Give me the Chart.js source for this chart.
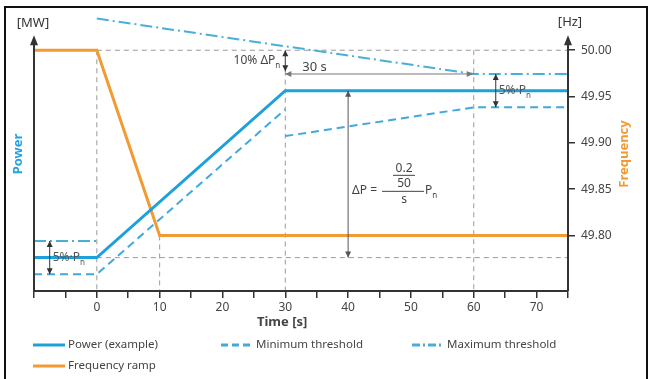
<!DOCTYPE html>
<html><head><meta charset="utf-8">
<script src="https://cdn.jsdelivr.net/npm/chart.js@4.4.1/dist/chart.umd.min.js"></script>
<style>html,body{margin:0;padding:0;background:#fff;}#wrap{position:relative;width:654px;height:379px;}</style>
</head><body><div id="wrap"><canvas id="c" width="654" height="379"></canvas></div>
<script>
const FONT = '"Noto Sans","Open Sans",sans-serif';
// ---- data ----
const xTickLabels = ['0','10','20','30','40','50','60','70'];
const freqTicks = [49.80, 49.85, 49.90, 49.95, 50.00];
const powerT   = [-10, 0, 30, 75];
const powerMW  = [5, 5, 30, 30];
const minT     = [-10, 0, 30, 30, 30, 60, 75];
const minMW    = [2.5, 2.5, 27.2, null, 23.2, 27.5, 27.5];
const maxT     = [-10, 0, 0, 0, 60, 75];
const maxMW    = [7.5, 7.5, null, 40.8, 32.5, 32.5];
const freqT    = [-10, 0, 10, 75];
const freqHz   = [50.00, 50.00, 49.80, 49.80];
// grey dashed reference lines (frequency axis units)
const refT     = [0, 75, 75, 0, 0, 0, 10, 10, 10, 30, 30, 30, 60, 60];
const refHz    = [50, 50, null, 50, 49.74, null, 49.80, 49.74, null, 49.978, 49.74, null, 50, 49.74];
const baseT    = [0, 75];
const baseMW   = [5, 5];
const labels   = ['Power (example)', 'Minimum threshold', 'Maximum threshold', 'Frequency ramp'];

const C_POW = '#1ea0da', C_MIN = '#3fa9dc', C_MAX = '#4aafd8', C_FREQ = '#f39a33', C_REF = '#9a9a9a';
const pts = (xs, ys) => xs.map((x, i) => ({x: x, y: ys[i]}));

const common = {pointRadius: 0, fill: false, tension: 0, spanGaps: false};
const datasets = [
  {...common, label: labels[0], data: pts(powerT, powerMW), yAxisID: 'yP', borderColor: C_POW, borderWidth: 3},
  {...common, label: labels[1], data: pts(minT, minMW), yAxisID: 'yP', borderColor: C_MIN, borderWidth: 2, borderDash: [8, 5]},
  {...common, label: labels[2], data: pts(maxT, maxMW), yAxisID: 'yP', borderColor: C_MAX, borderWidth: 2, borderDash: [12, 4, 2, 4]},
  {...common, label: labels[3], data: pts(freqT, freqHz), yAxisID: 'yF', borderColor: C_FREQ, borderWidth: 3},
  {...common, label: 'ref', data: pts(refT, refHz), yAxisID: 'yF', borderColor: C_REF, borderWidth: 1, borderDash: [5, 4]},
  {...common, label: 'ref2', data: pts(baseT, baseMW), yAxisID: 'yP', borderColor: C_REF, borderWidth: 1, borderDash: [5, 4]}
];

function head(ctx, x, y, dir, len, half) {
  len = len || 7; half = half || 3;
  ctx.beginPath();
  if (dir === 'up')    { ctx.moveTo(x, y); ctx.lineTo(x - half, y + len); ctx.lineTo(x + half, y + len); }
  if (dir === 'down')  { ctx.moveTo(x, y); ctx.lineTo(x - half, y - len); ctx.lineTo(x + half, y - len); }
  if (dir === 'left')  { ctx.moveTo(x, y); ctx.lineTo(x + len, y - half); ctx.lineTo(x + len, y + half); }
  if (dir === 'right') { ctx.moveTo(x, y); ctx.lineTo(x - len, y - half); ctx.lineTo(x - len, y + half); }
  ctx.closePath(); ctx.fill();
}
function dbl(ctx, x1, y1, x2, y2, color) {
  ctx.save(); ctx.strokeStyle = color; ctx.fillStyle = color; ctx.lineWidth = 1; ctx.setLineDash([]);
  ctx.beginPath(); ctx.moveTo(x1, y1); ctx.lineTo(x2, y2); ctx.stroke();
  if (x1 === x2) { head(ctx, x1, Math.min(y1, y2), 'up', 6, 3); head(ctx, x1, Math.max(y1, y2), 'down', 6, 3); }
  else { head(ctx, Math.min(x1, x2), y1, 'left', 6, 3); head(ctx, Math.max(x1, x2), y1, 'right', 6, 3); }
  ctx.restore();
}
function sub(ctx, main, s, x, y, align) {
  ctx.font = '12px ' + FONT;
  const w1 = ctx.measureText(main).width;
  ctx.font = '8px ' + FONT;
  const w2 = ctx.measureText(s).width;
  let x0 = align === 'right' ? x - w1 - w2 : x;
  ctx.textAlign = 'left'; ctx.textBaseline = 'middle';
  ctx.font = '12px ' + FONT; ctx.fillText(main, x0, y);
  ctx.font = '8px ' + FONT; ctx.fillText(s, x0 + w1, y + 5);
}

const deco = {
  id: 'deco',
  afterDraw(chart) {
    const ctx = chart.ctx, a = chart.chartArea;
    const xs = chart.scales.x, yP = chart.scales.yP, yF = chart.scales.yF;
    ctx.save();
    // outer frame
    ctx.strokeStyle = '#111'; ctx.lineWidth = 2; ctx.setLineDash([]);
    ctx.strokeRect(5, 7, 642, 400);
    // axes
    ctx.strokeStyle = '#333'; ctx.fillStyle = '#333'; ctx.lineWidth = 2;
    ctx.beginPath();
    ctx.moveTo(a.left, a.top + 28); ctx.lineTo(a.left, a.bottom); ctx.lineTo(a.right, a.bottom);
    ctx.moveTo(a.right, a.bottom); ctx.lineTo(a.right, a.top + 28);
    ctx.stroke();
    head(ctx, a.left, a.top + 22, 'up', 10, 4);
    head(ctx, a.right, a.top + 22, 'up', 10, 4);
    // unit labels
    ctx.fillStyle = '#333'; ctx.font = '13px ' + FONT; ctx.textAlign = 'center'; ctx.textBaseline = 'middle';
    ctx.fillText('[MW]', a.left - 1, 23);
    ctx.fillText('[Hz]', a.right + 2, 22);
    // axis titles
    ctx.font = 'bold 13px ' + FONT;
    ctx.save(); ctx.translate(18, 154); ctx.rotate(-Math.PI / 2); ctx.fillStyle = '#2aa3dc'; ctx.fillText('Power', 0, 0); ctx.restore();
    ctx.save(); ctx.translate(624, 154); ctx.rotate(-Math.PI / 2); ctx.fillStyle = '#f29a30'; ctx.fillText('Frequency', 0, 0); ctx.restore();
    ctx.fillStyle = '#444'; ctx.font = 'bold 13px ' + FONT;
    ctx.fillText('Time [s]', xs.getPixelForValue(29.5), 322);

    // annotations
    ctx.fillStyle = '#444';
    // 10% arrow
    const x30 = xs.getPixelForValue(30), x60 = xs.getPixelForValue(60);
    dbl(ctx, x30, yF.getPixelForValue(50), x30, yP.getPixelForValue(32.9), '#333');
    ctx.fillStyle = '#444';
    sub(ctx, '10% \u0394P', 'n', x30 - 5, 61, 'right');
    // 30 s arrow
    dbl(ctx, x30, yP.getPixelForValue(32.5), x60 - 1, yP.getPixelForValue(32.5), '#777');
    ctx.fillStyle = '#444'; ctx.font = '13px ' + FONT; ctx.textAlign = 'left'; ctx.textBaseline = 'middle';
    ctx.fillText('30 s', x30 + 17, yP.getPixelForValue(32.5) - 7);
    // right 5% band
    const xr = xs.getPixelForValue(63.5);
    dbl(ctx, xr, yP.getPixelForValue(32.5), xr, yP.getPixelForValue(27.5), '#333');
    ctx.fillStyle = '#555'; sub(ctx, '5%\u00b7P', 'n', xr + 3, yP.getPixelForValue(30), 'left');
    // left 5% band
    const xl = xs.getPixelForValue(-7.5);
    dbl(ctx, xl, yP.getPixelForValue(7.5), xl, yP.getPixelForValue(2.5), '#333');
    ctx.fillStyle = '#555'; sub(ctx, '5%\u00b7P', 'n', xl + 3, yP.getPixelForValue(5), 'left');
    // delta P arrow
    const x40 = xs.getPixelForValue(40);
    dbl(ctx, x40, yP.getPixelForValue(30), x40, yP.getPixelForValue(5), '#555');
    // formula
    const fx = xs.getPixelForValue(48.9), fy = yP.getPixelForValue(15);
    ctx.fillStyle = '#444'; ctx.font = '12px ' + FONT; ctx.textAlign = 'center'; ctx.textBaseline = 'middle';
    ctx.fillText('0.2', fx, fy - 22);
    ctx.fillText('50', fx, fy - 7);
    ctx.fillText('s', fx, fy + 9);
    ctx.textAlign = 'right'; ctx.fillText('\u0394P =', fx - 27, fy);
    ctx.strokeStyle = '#444'; ctx.lineWidth = 1;
    ctx.beginPath(); ctx.moveTo(fx - 11, fy - 15.5); ctx.lineTo(fx + 11, fy - 15.5);
    ctx.moveTo(fx - 22, fy + 0.5); ctx.lineTo(fx + 20, fy + 0.5); ctx.stroke();
    sub(ctx, 'P', 'n', fx + 21, fy, 'left');

    // legend
    const items = [[0, 33, 345], [1, 221, 345], [2, 412, 345], [3, 33, 366]];
    items.forEach(([i, x, y]) => {
      const ds = chart.data.datasets[i];
      ctx.save();
      ctx.strokeStyle = ds.borderColor; ctx.lineWidth = 3;
      ctx.setLineDash(i === 1 ? [7, 4] : i === 2 ? [8, 3, 2, 3] : []);
      ctx.beginPath(); ctx.moveTo(x, y); ctx.lineTo(x + 32, y); ctx.stroke();
      ctx.restore();
      ctx.fillStyle = '#444'; ctx.font = '11.5px ' + FONT; ctx.textAlign = 'left'; ctx.textBaseline = 'middle';
      ctx.fillText(ds.label, x + 35, y);
    });
    ctx.restore();
  }
};

new Chart(document.getElementById('c'), {
  type: 'line',
  data: {datasets: datasets},
  options: {
    responsive: false, animation: false, devicePixelRatio: 1,
    layout: {padding: {top: 12, left: 0, right: 0, bottom: 0}},
    plugins: {legend: {display: false}, tooltip: {enabled: false}},
    scales: {
      x: {
        type: 'linear', position: 'bottom', min: -10, max: 75,
        ticks: {stepSize: 5, autoSkip: false, maxRotation: 0, minRotation: 0, padding: 2, color: '#444',
          font: {size: 12, family: FONT},
          callback: v => (v >= 0 && v % 10 === 0 && xTickLabels.includes(String(v))) ? String(v) : ''},
        grid: {display: true, drawOnChartArea: false, drawTicks: true, tickLength: 7, color: '#333', lineWidth: 1.5},
        border: {display: false},
        afterFit: s => { s.height = 88; }
      },
      yP: {
        type: 'linear', position: 'left', min: 0, max: 41.6,
        ticks: {display: false}, grid: {display: false}, border: {display: false},
        afterFit: s => { s.width = 34; }
      },
      yF: {
        type: 'linear', position: 'right', min: 49.74, max: 50.04,
        afterBuildTicks: s => { s.ticks = freqTicks.map(v => ({value: v})); },
        ticks: {padding: 6, color: '#444', font: {size: 12, family: FONT}, callback: v => Number(v).toFixed(2)},
        grid: {display: true, drawOnChartArea: false, drawTicks: true, tickLength: 7, color: '#333', lineWidth: 1.5},
        border: {display: false},
        afterFit: s => { s.width = 86; }
      }
    }
  },
  plugins: [deco]
});
</script></body></html>
